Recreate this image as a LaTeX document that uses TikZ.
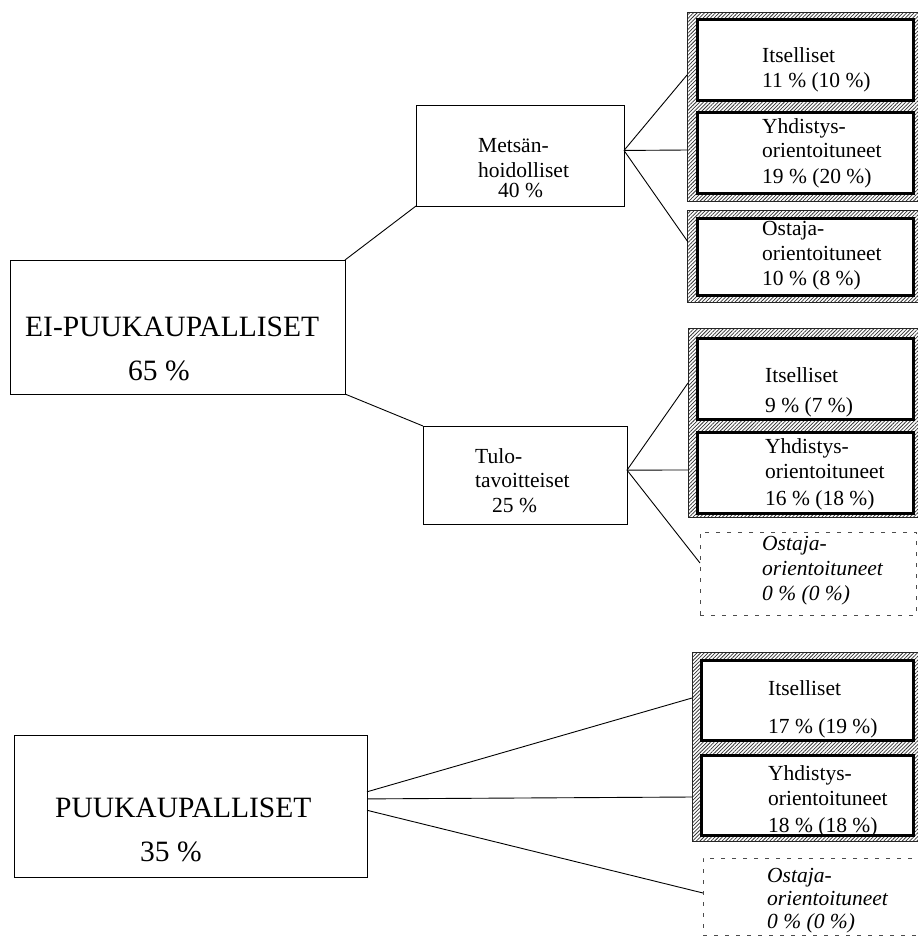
\documentclass[tikz,border=0pt]{standalone}
\usepackage{fontspec}
\setmainfont{Liberation Serif}
\usetikzlibrary{patterns.meta,calc}
\begin{document}
\begin{tikzpicture}[x=1pt,y=-1pt,
  plainbox/.style={draw=black, line width=0.9pt, anchor=north west, inner sep=0pt, outer sep=0pt, fill=white},
  hatchframe/.style={draw=black!85, line width=0.8pt, anchor=north west, inner sep=0pt, outer sep=0pt, pattern={Lines[angle=45,distance=2.6pt,line width=0.75pt]}, pattern color=black!80},
  thickbox/.style={draw=black, line width=3pt, anchor=north west, inner sep=0pt, outer sep=0pt, fill=white},
  dashbox/.style={draw=black!70, line width=0.8pt, dash pattern=on 4pt off 7pt, anchor=north west, inner sep=0pt, outer sep=0pt},
  conn/.style={draw=black, line width=0.9pt},
  big/.style={font=\fontsize{29.5}{34}\selectfont, anchor=base west, inner sep=0pt},
  small/.style={font=\fontsize{21.5}{25}\selectfont, anchor=base west, inner sep=0pt},
  smallit/.style={font=\fontsize{21.5}{25}\selectfont\itshape, anchor=base west, inner sep=0pt},
]
\clip (0,0) rectangle (918,938);
\fill[white] (0,0) rectangle (918,938);

% main boxes
\node[plainbox, minimum width=335pt, minimum height=134pt] (ei) at (10,260) {};
\node[plainbox, minimum width=208pt, minimum height=101pt] (met) at (416,105) {};
\node[plainbox, minimum width=204pt, minimum height=98pt] (tulo) at (423,426) {};
\node[plainbox, minimum width=353pt, minimum height=142pt] (puu) at (14,735) {};

% hatched frames
\node[hatchframe, minimum width=240pt, minimum height=189pt] (f1) at (687,12) {};
\node[hatchframe, minimum width=240pt, minimum height=92pt] (f2) at (687,210) {};
\node[hatchframe, minimum width=240pt, minimum height=189pt] (f3) at (688,328) {};
\node[hatchframe, minimum width=236pt, minimum height=189pt] (f4) at (692,652) {};

% inner boxes
\node[thickbox, minimum width=216pt, minimum height=81pt] (b1) at (697,19) {};
\node[thickbox, minimum width=216pt, minimum height=81pt] (b2) at (697,112) {};
\node[thickbox, minimum width=216pt, minimum height=77pt] (b3) at (697,218) {};
\node[thickbox, minimum width=216pt, minimum height=81pt] (b4) at (697,338) {};
\node[thickbox, minimum width=216pt, minimum height=81pt] (b5) at (697,432) {};
\node[thickbox, minimum width=212pt, minimum height=80pt] (b6) at (701,660) {};
\node[thickbox, minimum width=212pt, minimum height=80pt] (b7) at (701,755) {};

% dashed boxes
\node[dashbox, minimum width=216pt, minimum height=83pt] (d1) at (700,532) {};
\node[dashbox, minimum width=220pt, minimum height=77pt] (d2) at (703,858) {};

% connector points
\coordinate (mo) at ($(met.north east)!0.45!(met.south east)$);
\coordinate (to) at ($(tulo.north east)!0.45!(tulo.south east)$);
\coordinate (p1) at ($(puu.north east)!0.40!(puu.south east)$);
\coordinate (p2) at ($(puu.north east)!0.45!(puu.south east)$);
\coordinate (p3) at ($(puu.north east)!0.53!(puu.south east)$);
\coordinate (e1) at (687,75);
\coordinate (e2) at (687,150);
\coordinate (e3) at (688,242);
\coordinate (e4) at (688,383);
\coordinate (e5) at (688,470);
\coordinate (e6) at (700,563);
\coordinate (e7) at (692,698);
\coordinate (e8) at (692,797);
\coordinate (e9) at (703,893);

\draw[conn] (ei.north east) -- (met.south west);
\draw[conn] (ei.south east) -- (tulo.north west);
\draw[conn] (mo) -- (e1);
\draw[conn] (mo) -- (e2);
\draw[conn] (mo) -- (e3);
\draw[conn] (to) -- (e4);
\draw[conn] (to) -- (e5);
\draw[conn] (to) -- (e6);
\draw[conn] (p1) -- (e7);
\draw[conn] (p2) -- (e8);
\draw[conn] (p3) -- (e9);

% texts
\node[big] (tei1) at (25,336) {EI-PUUKAUPALLISET};
\node[big] (tei2) at (128,380) {65 \%};
\node[big] (tpu1) at (55,817) {PUUKAUPALLISET};
\node[big] (tpu2) at (140,861) {35 \%};

\node[small] (tm1) at (478,152) {Metsän-};
\node[small] (tm2) at (478,177) {hoidolliset};
\node[small] (tm3) at (498,197) {40 \%};

\node[small] (tt1) at (475,463) {Tulo-};
\node[small] (tt2) at (475,487) {tavoitteiset};
\node[small] (tt3) at (492,512) {25 \%};

\node[small] (a1) at (762,62) {Itselliset};
\node[small] (a2) at (762,87) {11 \% (10 \%)};
\node[small] (a3) at (762,133) {Yhdistys-};
\node[small] (a4) at (762,157) {orientoituneet};
\node[small] (a5) at (762,183) {19 \% (20 \%)};
\node[small] (a6) at (762,235) {Ostaja-};
\node[small] (a7) at (762,260) {orientoituneet};
\node[small] (a8) at (762,285) {10 \% (8 \%)};

\node[small] (c1) at (765,382) {Itselliset};
\node[small] (c2) at (765,412) {9 \% (7 \%)};
\node[small] (c3) at (765,453) {Yhdistys-};
\node[small] (c4) at (765,478) {orientoituneet};
\node[small] (c5) at (765,505) {16 \% (18 \%)};
\node[smallit] (c6) at (762,550) {Ostaja-};
\node[smallit] (c7) at (762,575) {orientoituneet};
\node[smallit] (c8) at (762,600) {0 \% (0 \%)};

\node[small] (g1) at (768,695) {Itselliset};
\node[small] (g2) at (768,733) {17 \% (19 \%)};
\node[small] (g3) at (768,780) {Yhdistys-};
\node[small] (g4) at (768,805) {orientoituneet};
\node[small] (g5) at (768,832) {18 \% (18 \%)};
\node[smallit] (g6) at (767,882) {Ostaja-};
\node[smallit] (g7) at (767,905) {orientoituneet};
\node[smallit] (g8) at (767,928) {0 \% (0 \%)};
\end{tikzpicture}
\end{document}
